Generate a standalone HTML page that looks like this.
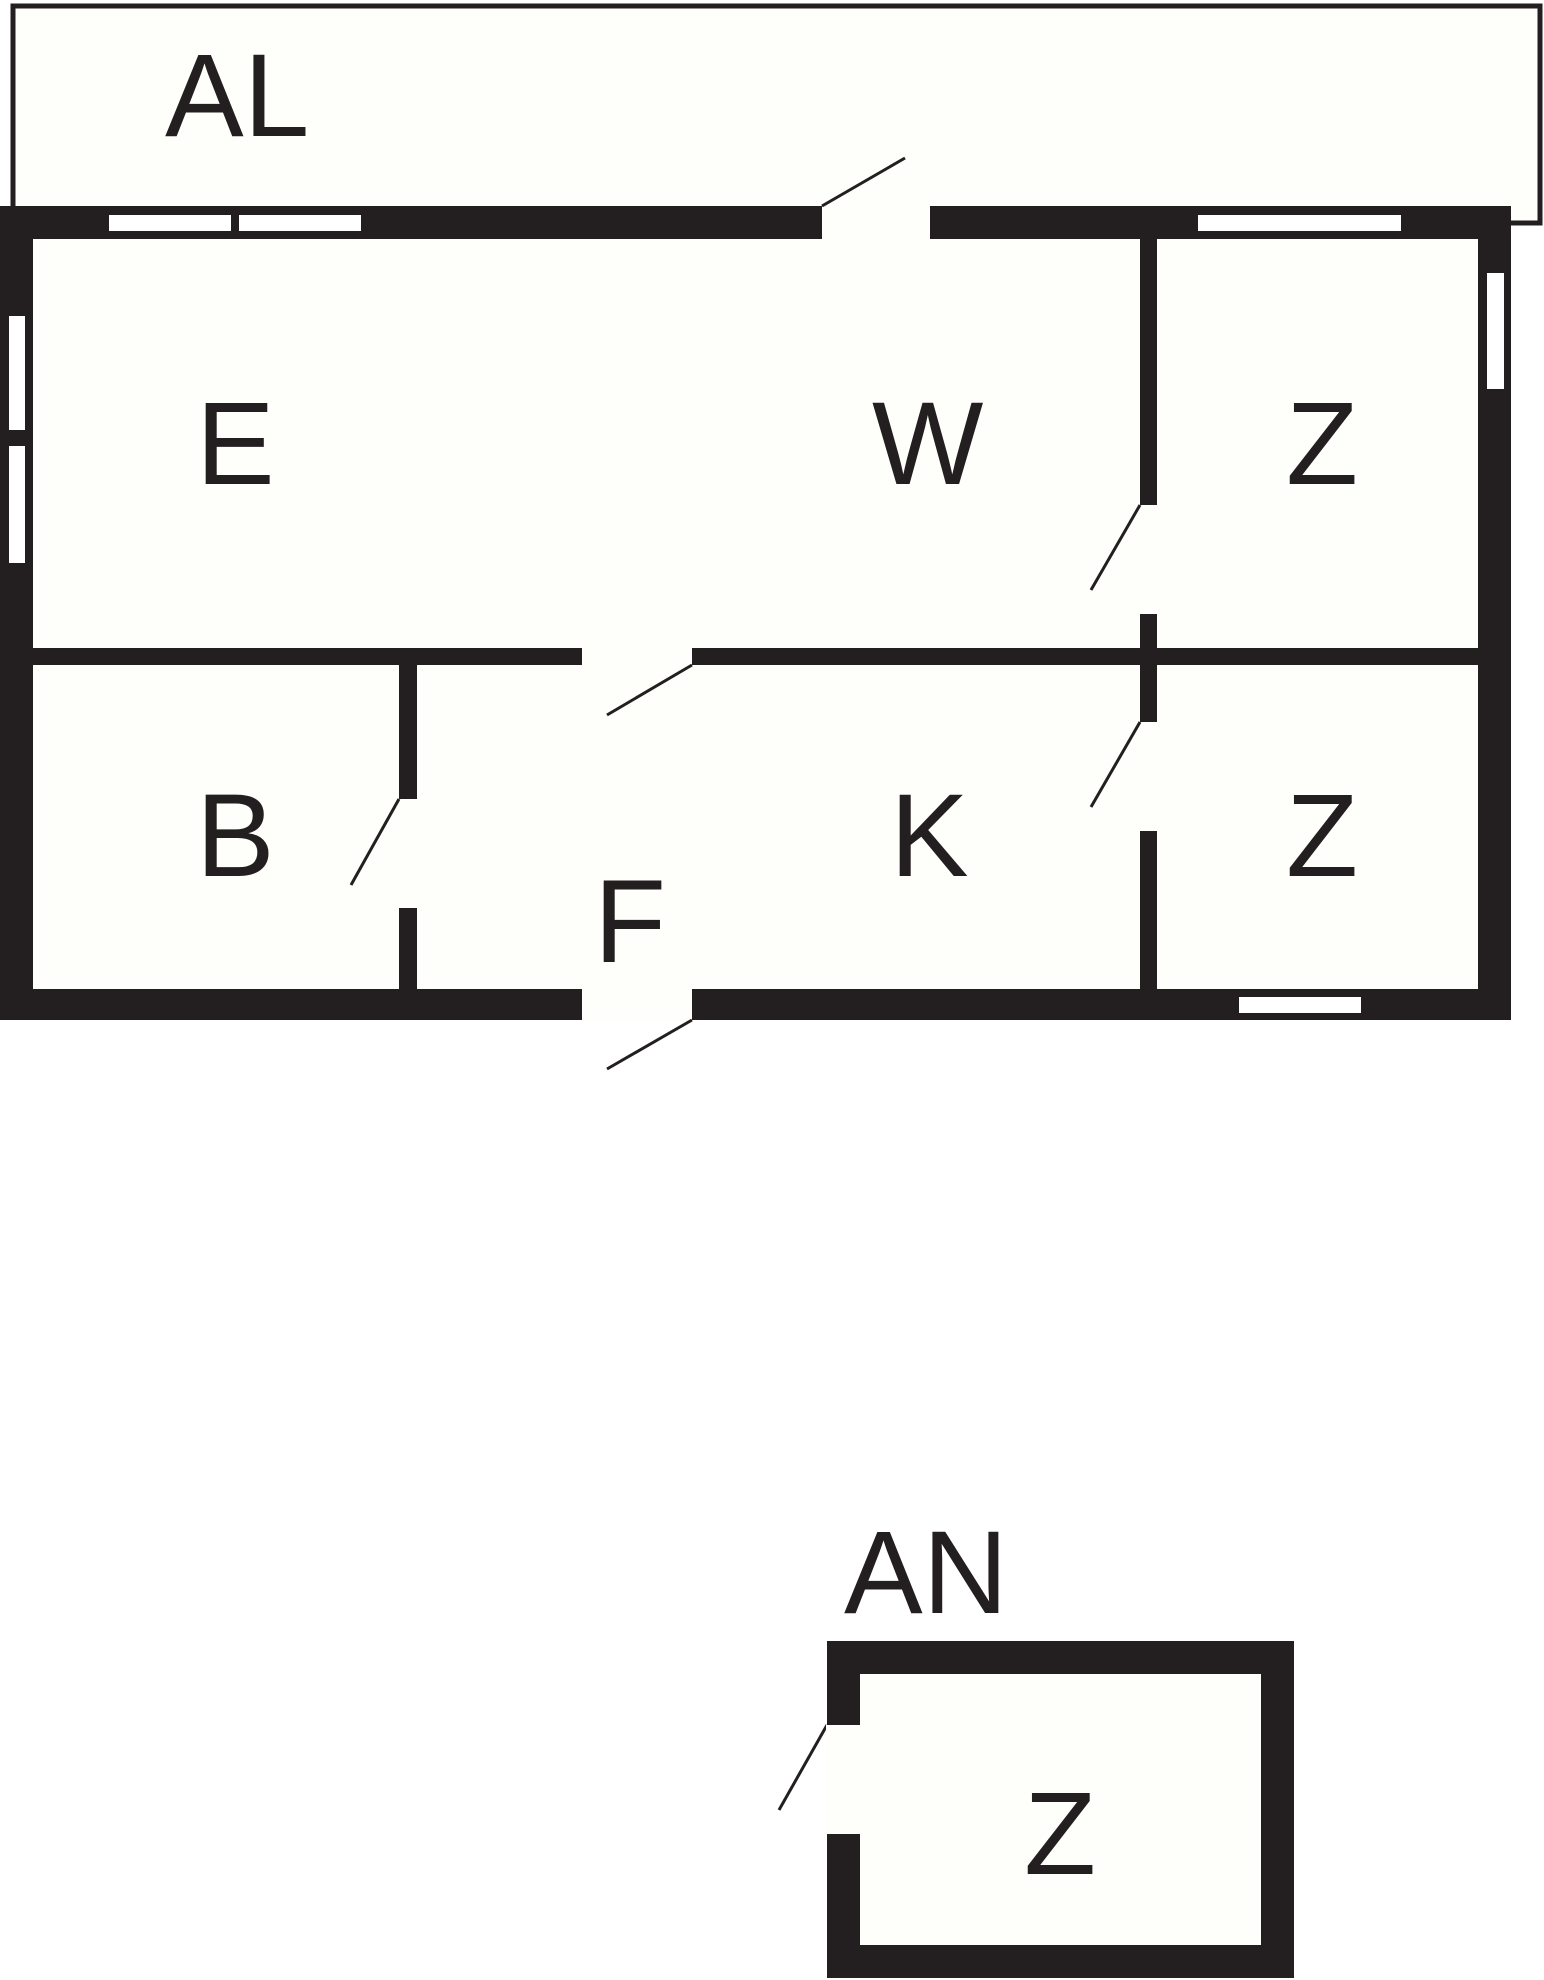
<!DOCTYPE html>
<html><head><style>html,body{margin:0;padding:0;background:#fff}svg{display:block}</style></head>
<body>
<svg width="1544" height="1980" viewBox="0 0 1544 1980" xmlns="http://www.w3.org/2000/svg">
<g fill="#231f20">
<!-- AL balcony outline -->
<rect x="13" y="6" width="1527" height="217" fill="#fefefa" stroke="#231f20" stroke-width="5"/>
<!-- main outer wall -->
<rect x="0" y="206" width="1511" height="814"/>
<rect x="33" y="239" width="1445" height="750" fill="#fefefa"/>
<!-- middle horizontal wall -->
<rect x="33" y="648" width="1445" height="17"/>
<!-- vertical wall W/Z -->
<rect x="1140" y="239" width="17" height="750"/>
<!-- vertical wall B/F -->
<rect x="399" y="665" width="18" height="324"/>
</g>
<g fill="#fefefa">
<!-- door gaps -->
<rect x="822" y="204" width="108" height="36"/>
<rect x="582" y="647" width="110" height="19"/>
<rect x="1139" y="505" width="19" height="109"/>
<rect x="1139" y="722" width="19" height="109"/>
<rect x="398" y="799" width="20" height="109"/>
<rect x="582" y="988" width="110" height="33"/>
</g>
<g fill="#fff">
<!-- windows -->
<rect x="109" y="215" width="122" height="16"/>
<rect x="239" y="215" width="122" height="16"/>
<rect x="1198" y="215" width="203" height="16"/>
<rect x="1487" y="273" width="17" height="116"/>
<rect x="9" y="316" width="16" height="114"/>
<rect x="9" y="446" width="16" height="117"/>
<rect x="1239" y="997" width="122" height="16"/>
</g>
<g stroke="#231f20" stroke-width="3" fill="none">
<line x1="822" y1="206" x2="905" y2="158"/>
<line x1="692" y1="665" x2="607" y2="715"/>
<line x1="1140" y1="505" x2="1091" y2="590"/>
<line x1="1140" y1="722" x2="1091" y2="807"/>
<line x1="399" y1="799" x2="351" y2="885"/>
<line x1="692" y1="1020" x2="607" y2="1069"/>
<line x1="827" y1="1725" x2="779" y2="1810"/>
</g>
<!-- AN -->
<rect x="827" y="1641" width="467" height="337" fill="#231f20"/>
<rect x="860" y="1674" width="401" height="271" fill="#fefefa"/>
<rect x="826" y="1725" width="35" height="109" fill="#fefefa"/>
<g font-family="Liberation Sans, sans-serif" font-size="118" fill="#231f20">
<text x="165" y="136">AL</text>
<text x="196" y="484">E</text>
<text x="872" y="484">W</text>
<text x="1286" y="484">Z</text>
<text x="196" y="876">B</text>
<text x="890" y="876">K</text>
<text x="1286" y="876">Z</text>
<text x="594" y="962">F</text>
<text x="844" y="1613">AN</text>
<text x="1024" y="1874">Z</text>
</g>
</svg>
</body></html>
